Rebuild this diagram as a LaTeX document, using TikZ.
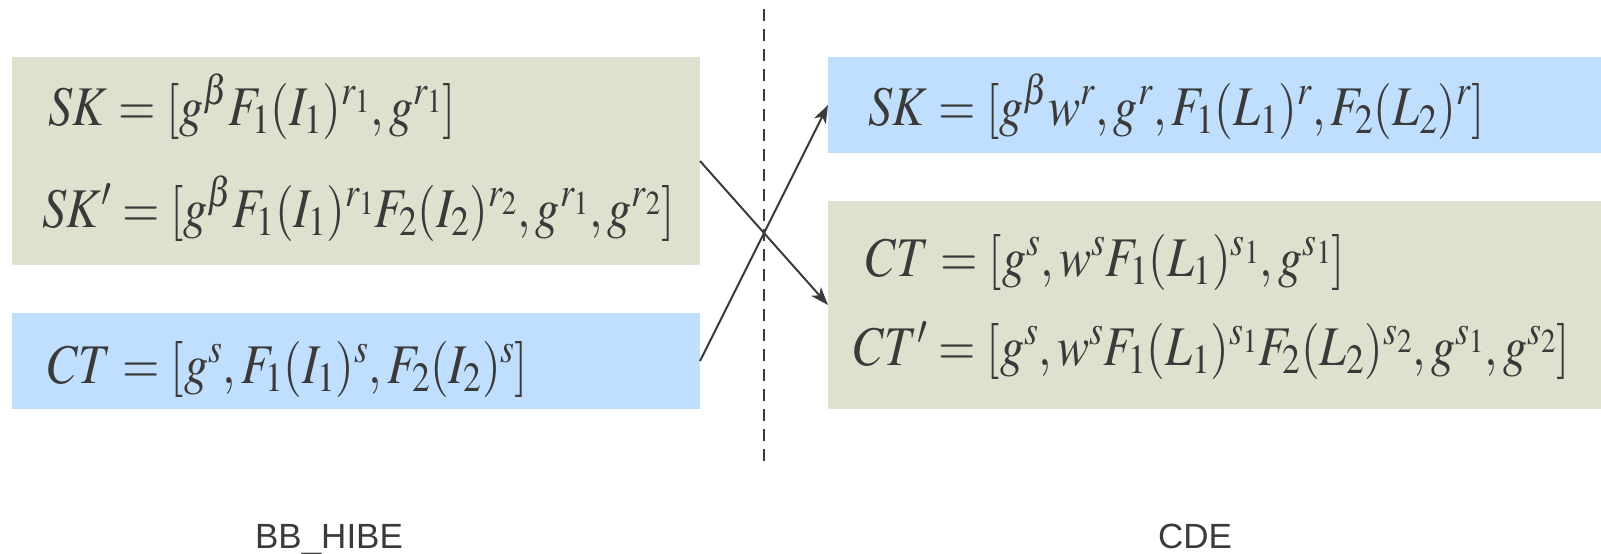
\documentclass[tikz,border=0pt]{standalone}
\usepackage{mathptmx}
\usepackage[no-math]{fontspec}
\setmainfont{Liberation Sans}
\usetikzlibrary{arrows.meta}
\definecolor{tanfill}{RGB}{224,224,207}
\definecolor{bluefill}{RGB}{192,223,254}
\definecolor{inkgray}{RGB}{58,58,58}
\newcommand{\narroweq}[1]{\scalebox{0.86}[1]{$#1$}}

\begin{document}
\begin{tikzpicture}[x=1pt,y=-1pt,
  box/.style={inner sep=0pt,outer sep=0pt,anchor=north west},
  eqn/.style={anchor=base west,inner sep=0pt,text=inkgray,font=\fontsize{56}{66}\selectfont},
  tag/.style={anchor=base,text=inkgray,font=\fontsize{35}{42}\selectfont},
  conn/.style={line width=2pt,draw=inkgray,-{Stealth[length=18pt,width=13pt,inset=5pt]}}]
  \useasboundingbox (0,0) rectangle (1601,554);
  % boxes
  \node[box,fill=tanfill,minimum width=688pt,minimum height=208pt] (skbb) at (12,57) {};
  \node[box,fill=bluefill,minimum width=688pt,minimum height=96pt] (ctbb) at (12,313) {};
  \node[box,fill=bluefill,minimum width=773pt,minimum height=96pt] (skcde) at (828,57) {};
  \node[box,fill=tanfill,minimum width=773pt,minimum height=208pt] (ctcde) at (828,201) {};
  % separator
  \coordinate (top) at (764,9);
  \coordinate (bot) at (764,467);
  \draw[line width=2pt,draw=inkgray,dash pattern=on 12pt off 8pt] (top) -- (bot);
  % equations
  \node[eqn] (e1) at (48,125) {\narroweq{SK=[g^{\beta}F_1(I_1)^{r_1},g^{r_1}]}};
  \node[eqn] (e2) at (42,227) {\narroweq{SK'=[g^{\beta}F_1(I_1)^{r_1}F_2(I_2)^{r_2},g^{r_1},g^{r_2}]}};
  \node[eqn] (e3) at (48,383) {\narroweq{CT=[g^s,F_1(I_1)^s,F_2(I_2)^s]}};
  \node[eqn] (e4) at (868,125) {\narroweq{SK=[g^{\beta}w^r,g^r,F_1(L_1)^r,F_2(L_2)^r]}};
  \node[eqn] (e5) at (866,276) {\narroweq{CT=[g^s,w^sF_1(L_1)^{s_1},g^{s_1}]}};
  \node[eqn] (e6) at (854,365) {\narroweq{CT'=[g^s,w^sF_1(L_1)^{s_1}F_2(L_2)^{s_2},g^{s_1},g^{s_2}]}};
  % connectors
  \draw[conn] (skbb.east) -- (ctcde.west);
  \draw[conn] (ctbb.east) -- (skcde.west);
  % labels
  \node[tag] (bb) at (329,548) {BB\_HIBE};
  \node[tag] (cde) at (1195,548) {CDE};
\end{tikzpicture}
\end{document}
